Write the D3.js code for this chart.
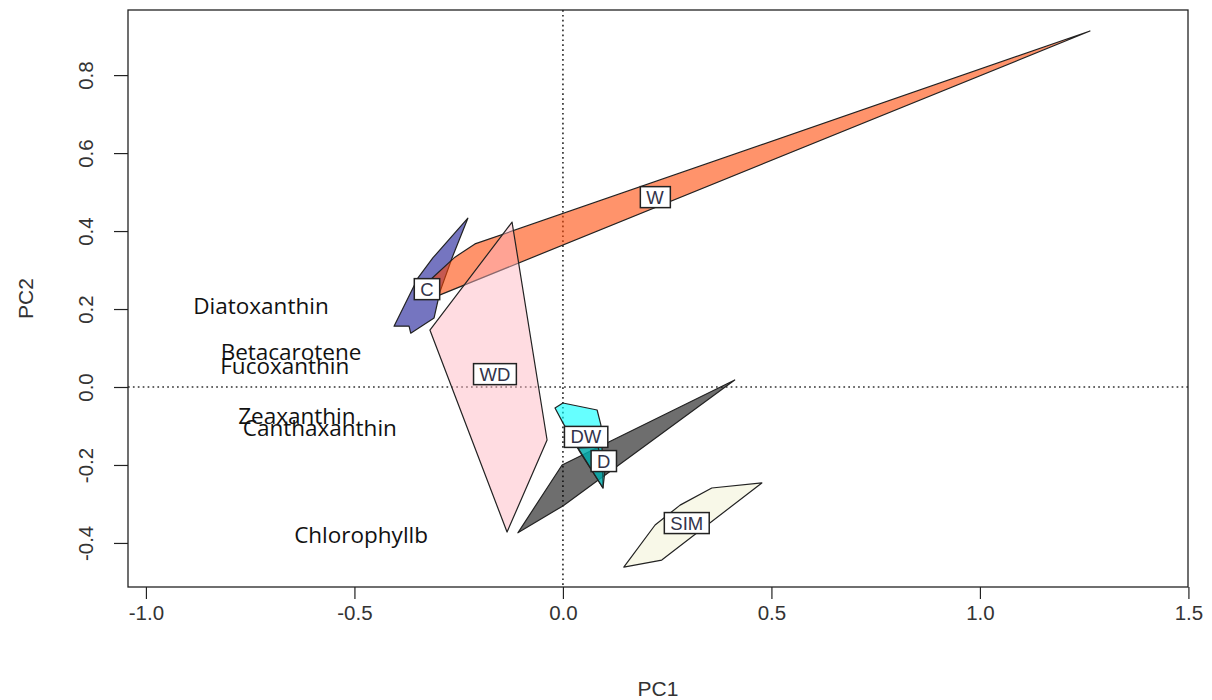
<!DOCTYPE html>
<html>
<head>
<meta charset="utf-8">
<script src="https://cdn.jsdelivr.net/npm/d3@7"></script>
<style>
  html, body { margin: 0; padding: 0; background: #fff; }
  svg { display: block; }
</style>
</head>
<body>
<svg id="chart" width="1212" height="700"></svg>
<script>
// Group hulls in PC1/PC2 space: [PC1, PC2] vertices
const hullC   = [[-0.228,0.433],[-0.266,0.331],[-0.295,0.244],[-0.309,0.177],[-0.365,0.138],[-0.369,0.156],[-0.405,0.156],[-0.348,0.279],[-0.312,0.331]];
const hullW   = [[1.264,0.913],[-0.211,0.367],[-0.259,0.333],[-0.314,0.279],[-0.302,0.233]];
const hullWD  = [[-0.122,0.423],[-0.038,-0.136],[-0.134,-0.372],[-0.319,0.146]];
const hullD   = [[-0.108,-0.374],[0.0,-0.305],[0.412,0.018],[-0.002,-0.200]];
const hullDW  = [[-0.019,-0.054],[0.0,-0.041],[0.082,-0.059],[0.091,-0.097],[0.094,-0.162],[0.096,-0.259],[0.041,-0.167],[0.0,-0.092]];
const hullDWb = [[0.036,-0.156],[0.084,-0.154],[0.101,-0.213],[0.096,-0.259]];
const hullSIM = [[0.146,-0.462],[0.237,-0.444],[0.477,-0.246],[0.357,-0.259],[0.281,-0.303],[0.221,-0.354]];

// Group labels and their positions
const groupNames = ["C", "W", "WD", "DW", "D", "SIM"];
const groupLabelPC1 = [-0.326, 0.221, -0.163, 0.055, 0.098, 0.297];
const groupLabelPC2 = [0.251, 0.487, 0.033, -0.128, -0.190, -0.349];

// Pigment labels
const pigments   = ["Diatoxanthin", "Betacarotene", "Fucoxanthin", "Zeaxanthin", "Canthaxanthin", "Chlorophyllb"];
const pigmentPC1 = [-0.724, -0.652, -0.667, -0.638, -0.583, -0.484];
const pigmentPC2 = [0.210, 0.092, 0.054, -0.074, -0.103, -0.379];

// Axis ticks
const xTicks = [-1.0, -0.5, 0.0, 0.5, 1.0, 1.5];
const yTicks = [-0.4, -0.2, 0.0, 0.2, 0.4, 0.6, 0.8];

const svg = d3.select("#chart");
const margin = {left: 128, right: 24, top: 10, bottom: 113};
const W = 1212, H = 700;

const x = d3.scaleLinear().domain([-1.043, 1.499]).range([margin.left, W - margin.right]);
const y = d3.scaleLinear().domain([0.967, -0.513]).range([margin.top, H - margin.bottom]);

// zero reference lines
const gZero = svg.append("g").attr("stroke", "#333").attr("stroke-width", 1.7).attr("stroke-dasharray", "1.7,3.2");
gZero.append("line").attr("x1", x(0)).attr("x2", x(0)).attr("y1", y.range()[0]).attr("y2", y.range()[1]);
gZero.append("line").attr("x1", x.range()[0]).attr("x2", x.range()[1]).attr("y1", y(0)).attr("y2", y(0));

// hull polygons, drawn in group order
const hulls = [
  {pts: hullC,   fill: "#00008B", op: 0.54},
  {pts: hullW,   fill: "#FF4500", op: 0.58},
  {pts: hullWD,  fill: "#FFB6C1", op: 0.48},
  {pts: hullD,   fill: "#000000", op: 0.57},
  {pts: hullDW,  fill: "#00FFFF", op: 0.6},
  {pts: hullDWb, fill: "#008B8B", op: 0.6},
  {pts: hullSIM, fill: "#F5F5DC", op: 0.65}
];
const line = d3.line().x(d => x(d[0])).y(d => y(d[1])).curve(d3.curveLinearClosed);
svg.append("g").selectAll("path").data(hulls).join("path")
  .attr("d", d => line(d.pts))
  .attr("fill", d => d.fill)
  .attr("fill-opacity", d => d.op)
  .attr("stroke", "#222")
  .attr("stroke-width", 1.2)
  .attr("stroke-linejoin", "round");

// pigment names
svg.append("g").selectAll("text").data(pigments).join("text")
  .attr("x", (d, i) => x(pigmentPC1[i]))
  .attr("y", (d, i) => y(pigmentPC2[i]))
  .attr("text-anchor", "middle")
  .attr("dominant-baseline", "central")
  .attr("font-family", "'Open Sans', sans-serif")
  .attr("font-size", 22.5)
  .attr("fill", "#111")
  .text(d => d);

// boxed group labels
const gLab = svg.append("g").selectAll("g").data(groupNames).join("g")
  .attr("transform", (d, i) => `translate(${x(groupLabelPC1[i])},${y(groupLabelPC2[i])})`);
gLab.append("text")
  .attr("text-anchor", "middle")
  .attr("dominant-baseline", "central")
  .attr("font-family", "'Liberation Sans', Arial, sans-serif")
  .attr("font-size", 18.5)
  .attr("fill", "#33334a")
  .text(d => d);
gLab.each(function() {
  const g = d3.select(this);
  const bb = g.select("text").node().getBBox();
  g.insert("rect", "text")
    .attr("x", bb.x - 6).attr("y", bb.y)
    .attr("width", bb.width + 12).attr("height", bb.height)
    .attr("fill", "#fff").attr("stroke", "#222").attr("stroke-width", 1.5);
});

// axes
const fmt = d => d.toFixed(1);
const xAxis = svg.append("g")
  .attr("transform", `translate(0,${y.range()[1]})`)
  .call(d3.axisBottom(x).tickValues(xTicks).tickFormat(fmt).tickSize(12).tickPadding(6));
const yAxis = svg.append("g")
  .attr("transform", `translate(${x.range()[0]},0)`)
  .call(d3.axisLeft(y).tickValues(yTicks).tickFormat(fmt).tickSize(14).tickPadding(0));
[xAxis, yAxis].forEach(a => {
  a.select(".domain").remove();
  a.selectAll(".tick line").attr("stroke", "#222").attr("stroke-width", 1.2);
  a.selectAll(".tick text")
    .attr("font-family", "'Liberation Sans', Arial, sans-serif")
    .attr("font-size", 20.5)
    .attr("fill", "#333");
});
yAxis.selectAll(".tick text")
  .attr("x", null).attr("dy", null)
  .attr("text-anchor", "middle")
  .attr("dominant-baseline", "central")
  .attr("transform", "translate(-43,0) rotate(-90)");

// plot frame
svg.append("rect")
  .attr("x", x.range()[0]).attr("y", y.range()[0])
  .attr("width", x.range()[1] - x.range()[0])
  .attr("height", y.range()[1] - y.range()[0])
  .attr("fill", "none").attr("stroke", "#222").attr("stroke-width", 1.3);

// axis titles
svg.append("text")
  .attr("x", (x.range()[0] + x.range()[1]) / 2).attr("y", 688)
  .attr("text-anchor", "middle").attr("dominant-baseline", "central")
  .attr("font-family", "'Liberation Sans', Arial, sans-serif").attr("font-size", 21).attr("fill", "#333")
  .text("PC1");
svg.append("text")
  .attr("transform", `translate(25,${(y.range()[0] + y.range()[1]) / 2}) rotate(-90)`)
  .attr("text-anchor", "middle").attr("dominant-baseline", "central")
  .attr("font-family", "'Liberation Sans', Arial, sans-serif").attr("font-size", 21).attr("fill", "#333")
  .text("PC2");
</script>
</body>
</html>
